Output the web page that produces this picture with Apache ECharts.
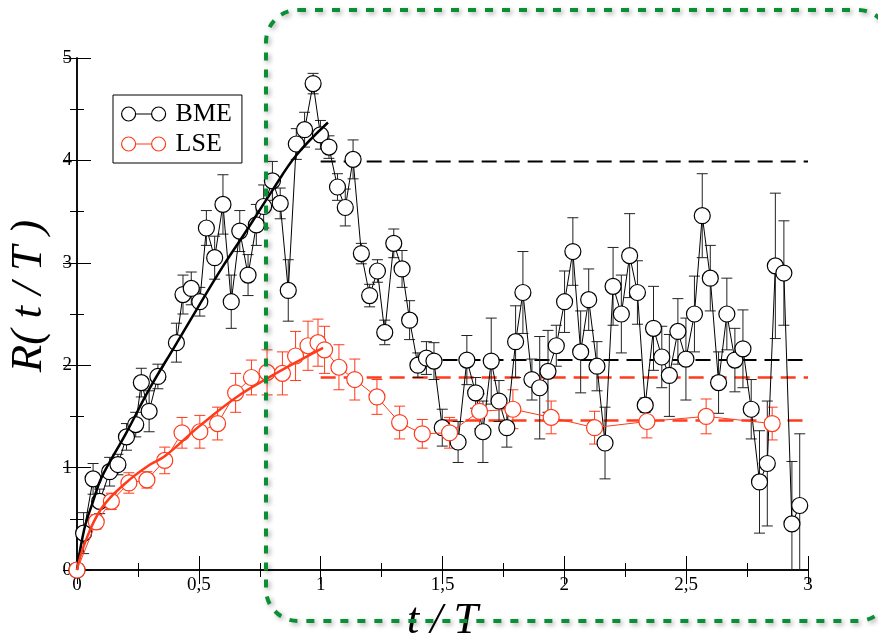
<!DOCTYPE html>
<html>
<head>
<meta charset="utf-8">
<script src="https://cdn.jsdelivr.net/npm/echarts@6/dist/echarts.min.js"></script>
<style>html,body{margin:0;padding:0;background:#fff;}#main{width:878px;height:633px;}</style>
</head>
<body>
<div id="main"></div>
<script>
// ---- data ----
const bmeT = [0,0.027,0.066,0.093,0.134,0.168,0.203,0.241,0.264,0.296,0.332,0.408,0.435,0.469,0.504,0.531,0.565,0.599,0.633,0.668,0.702,0.736,0.766,0.802,0.834,0.867,0.900,0.934,0.969,0.999,1.034,1.069,1.101,1.133,1.167,1.201,1.233,1.263,1.300,1.334,1.365,1.399,1.434,1.465,1.499,1.564,1.600,1.636,1.666,1.700,1.732,1.764,1.800,1.830,1.867,1.899,1.933,1.967,2.001,2.035,2.067,2.100,2.134,2.167,2.200,2.234,2.268,2.300,2.332,2.366,2.400,2.431,2.466,2.499,2.534,2.566,2.599,2.633,2.667,2.700,2.733,2.767,2.801,2.833,2.866,2.901,2.934,2.966];
const bmeR = [0,0.36,0.89,0.67,0.96,1.03,1.30,1.42,1.83,1.55,1.89,2.22,2.69,2.75,2.62,3.34,3.05,3.57,2.62,3.31,2.88,3.37,3.55,3.80,3.58,2.73,4.16,4.30,4.75,4.25,4.13,3.74,3.54,4.01,3.09,2.68,2.92,2.32,3.19,2.94,2.44,2.00,2.07,2.04,1.39,1.25,2.05,1.73,1.35,2.04,1.65,1.39,2.23,2.71,1.86,1.78,1.94,2.19,2.62,3.11,2.13,2.64,1.99,1.24,2.77,2.50,3.07,2.71,1.61,2.36,2.08,1.90,2.33,2.06,2.50,3.46,2.85,1.83,2.50,2.05,2.16,1.57,0.86,1.04,2.97,2.90,0.45,0.63];
const bmeErr = [0,0.2,0.15,0.12,0.14,0.1,0.13,0.12,0.14,0.2,0.12,0.19,0.19,0.16,0.14,0.17,0.21,0.29,0.26,0.2,0.2,0.2,0.21,0.19,0.15,0.3,0.15,0.17,0.1,0.14,0.11,0.13,0.18,0.19,0.1,0.11,0.11,0.12,0.14,0.18,0.19,0.12,0.16,0.18,0.18,0.2,0.24,0.15,0.3,0.42,0.2,0.19,0.35,0.4,0.2,0.5,0.4,0.2,0.3,0.33,0.4,0.3,0.24,0.35,0.38,0.38,0.41,0.31,0.07,0.41,0.3,0.4,0.32,0.4,0.37,0.41,0.32,0.3,0.35,0.31,0.38,0.29,0.5,0.61,0.71,0.51,0.61,0.7];

const lseT = [0,0.079,0.141,0.213,0.287,0.360,0.431,0.504,0.577,0.651,0.716,0.780,0.843,0.897,0.948,0.989,1.016,1.075,1.140,1.231,1.324,1.417,1.529,1.652,1.789,1.946,2.124,2.339,2.582,2.853];
const lseR = [0,0.47,0.67,0.85,0.88,1.07,1.34,1.35,1.43,1.73,1.88,1.93,1.92,2.09,2.19,2.22,2.15,1.98,1.86,1.69,1.44,1.33,1.34,1.55,1.57,1.49,1.39,1.45,1.50,1.43];
const lseErr = [0,0.07,0.08,0.1,0.08,0.13,0.15,0.16,0.16,0.19,0.17,0.22,0.21,0.24,0.24,0.23,0.23,0.22,0.2,0.17,0.16,0.14,0.15,0.17,0.19,0.16,0.16,0.16,0.17,0.16];

// fitted curves
const bmeFitT = [0,0.03,0.066,0.1,0.2,0.3,0.4,0.5,0.6,0.7,0.8,0.9,1.03];
const bmeFitR = [0,0.4,0.67,0.9,1.33,1.78,2.18,2.58,2.97,3.33,3.7,4.05,4.37];
const lseFitT = [0,0.03,0.1,0.2,0.3,0.36,0.5,0.65,0.78,0.9,1.01];
const lseFitR = [0,0.25,0.6,0.85,1.03,1.11,1.4,1.68,1.87,2.03,2.17];

// plateau levels
const bmePlateauHigh = {t: [1.0, 3.0], r: 3.99};
const bmePlateauLow  = {t: [1.5, 3.0], r: 2.05};
const lsePlateauHigh = {t: [1.0, 3.0], r: 1.88};
const lsePlateauLow  = {t: [1.5, 3.0], r: 1.46};

const xTicksLabel = v => String(v).replace('.', ',');

// ---- build ----
const zip = (a, b) => a.map((v, i) => [v, b[i]]);
const zip3 = (a, b, c) => a.map((v, i) => [v, b[i], c[i]]);
const BLACK = '#000';
const RED = '#ff3b1c';
const SERIF = '"Liberation Serif", "DejaVu Serif", serif';

function errRender(color) {
  return function (params, api) {
    const x = api.value(0), y = api.value(1), e = api.value(2);
    if (!e) return null;
    const top = api.coord([x, y + e]);
    const lowV = y - e;
    const bot = api.coord([x, Math.max(0, lowV)]);
    const hw = 5.5;
    const st = {stroke: color, lineWidth: 1};
    const ch = [
      {type: 'line', shape: {x1: top[0], y1: top[1], x2: bot[0], y2: bot[1]}, style: st},
      {type: 'line', shape: {x1: top[0] - hw, y1: top[1], x2: top[0] + hw, y2: top[1]}, style: st}
    ];
    if (lowV > 0) ch.push({type: 'line', shape: {x1: bot[0] - hw, y1: bot[1], x2: bot[0] + hw, y2: bot[1]}, style: st});
    return {type: 'group', children: ch};
  };
}

function plateau(p, color, width) {
  return {
    type: 'line', data: [[p.t[0], p.r], [p.t[1], p.r]], symbol: 'none', silent: true, z: 2,
    lineStyle: {color: color, width: width, type: [15, 8]}
  };
}

const iconPath = 'path://M0,7A7,7 0 1,1 14,7A7,7 0 1,1 0,7Z M14,7L30,7 M30,7A7,7 0 1,1 44,7A7,7 0 1,1 30,7Z';

const axisCommon = {
  type: 'value',
  axisLine: {show: true, lineStyle: {color: BLACK, width: 1.5}},
  axisTick: {show: true, inside: true, length: 14, lineStyle: {color: BLACK, width: 1}},
  minorTick: {show: true, splitNumber: 2, length: 7, lineStyle: {color: BLACK, width: 1}},
  splitLine: {show: false}
};

const option = {
  backgroundColor: '#fff',
  animation: false,
  grid: {left: 77, right: 70, top: 58, bottom: 63, outerBoundsMode: 'none', containLabel: false},
  legend: {
    orient: 'vertical', left: 113, top: 95,
    padding: [6, 10, 6, 8], itemGap: 4, itemWidth: 44, itemHeight: 14,
    borderColor: BLACK, borderWidth: 1, backgroundColor: '#fff',
    textStyle: {fontFamily: SERIF, fontSize: 26, color: BLACK, lineHeight: 22, padding: [0, 0, 0, 5]},
    data: [
      {name: 'BME', icon: iconPath, itemStyle: {color: '#fff', borderColor: BLACK, borderWidth: 1.2}},
      {name: 'LSE', icon: iconPath, itemStyle: {color: '#fff', borderColor: RED, borderWidth: 1.2}}
    ]
  },
  xAxis: [
    Object.assign({}, axisCommon, {
      position: 'bottom', min: 0, max: 3, interval: 0.5,
      axisLabel: {formatter: xTicksLabel, fontFamily: SERIF, fontSize: 19, color: BLACK, margin: 6},
      name: 't / T', nameLocation: 'middle', nameGap: 24,
      nameTextStyle: {fontFamily: SERIF, fontStyle: 'italic', fontSize: 44, color: BLACK}
    }),
    Object.assign({}, axisCommon, {position: 'top', min: 0, max: 3, interval: 0.5, axisLabel: {show: false}})
  ],
  yAxis: [
    Object.assign({}, axisCommon, {
      position: 'left', min: 0, max: 5, interval: 1,
      axisLabel: {fontFamily: SERIF, fontSize: 19, color: BLACK, margin: 5},
      name: 'R( t / T )', nameLocation: 'middle', nameGap: 18, nameRotate: 90,
      nameTextStyle: {fontFamily: SERIF, fontStyle: 'italic', fontSize: 45, color: BLACK, padding: [0, 0, 0, 36]}
    }),
    Object.assign({}, axisCommon, {position: 'right', min: 0, max: 5, interval: 1, axisLabel: {show: false}})
  ],
  series: [
    plateau(bmePlateauHigh, BLACK, 2),
    plateau(bmePlateauLow, BLACK, 2),
    plateau(lsePlateauHigh, RED, 2.5),
    plateau(lsePlateauLow, RED, 2.5),
    {type: 'custom', name: 'bmeErr', renderItem: errRender('#222'), data: zip3(bmeT, bmeR, bmeErr), z: 3, silent: true},
    {type: 'custom', name: 'lseErr', renderItem: errRender(RED), data: zip3(lseT, lseR, lseErr), z: 3, silent: true},
    {
      type: 'line', name: 'BME', data: zip(bmeT, bmeR), z: 4,
      symbol: 'circle', symbolSize: 16, showAllSymbol: true,
      lineStyle: {color: BLACK, width: 1},
      itemStyle: {color: '#fff', borderColor: BLACK, borderWidth: 1.2}
    },
    {
      type: 'line', name: 'LSE', data: zip(lseT, lseR), z: 5,
      symbol: 'circle', symbolSize: 16, showAllSymbol: true,
      lineStyle: {color: RED, width: 1},
      itemStyle: {color: '#fff', borderColor: RED, borderWidth: 1.2}
    },
    {type: 'line', name: 'bmeFit', data: zip(bmeFitT, bmeFitR), smooth: 0.4, symbol: 'none', z: 6, silent: true,
     lineStyle: {color: BLACK, width: 2.5}},
    {type: 'line', name: 'lseFit', data: zip(lseFitT, lseFitR), smooth: 0.4, symbol: 'none', z: 6, silent: true,
     lineStyle: {color: RED, width: 2.5}}
  ],
  graphic: [
    {
      type: 'rect', z: 100, silent: true,
      shape: {x: 266, y: 10, width: 624, height: 611, r: 32},
      style: {fill: 'none', stroke: '#0b8f35', lineWidth: 4, lineDash: [8, 9],
              shadowBlur: 5, shadowColor: 'rgba(0,0,0,0.35)', shadowOffsetX: 2, shadowOffsetY: 2}
    }
  ]
};

const chart = echarts.init(document.getElementById('main'), null, {renderer: 'canvas'});
chart.setOption(option);
</script>
</body>
</html>
